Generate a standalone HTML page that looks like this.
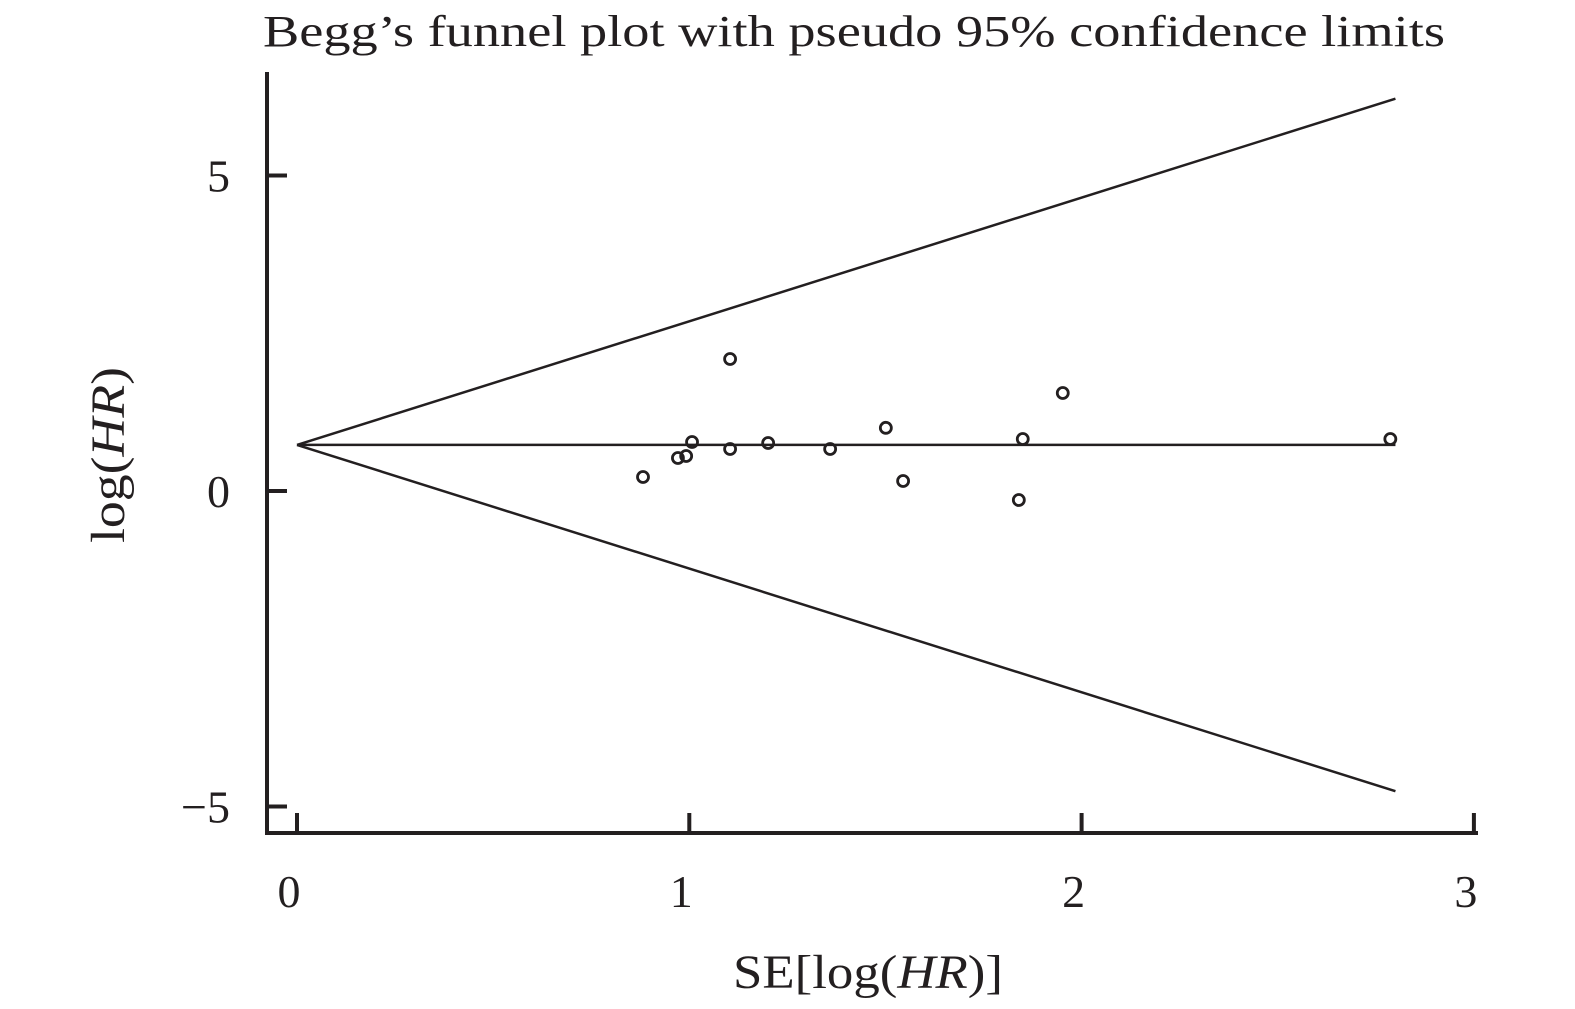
<!DOCTYPE html>
<html><head><meta charset="utf-8"><style>
html,body{margin:0;padding:0;background:#fff;}
svg{display:block;font-family:"Liberation Serif",serif;}
</style></head><body>
<svg id="chart" width="1575" height="1009" viewBox="0 0 1575 1009">
<text x="263" y="46" font-size="44" textLength="1182" lengthAdjust="spacingAndGlyphs" fill="#231f20">Begg’s funnel plot with pseudo 95% confidence limits</text>
<g id="axes"></g>
<g id="marks"></g>
<text transform="translate(124,455) rotate(-90)" text-anchor="middle" font-size="48" textLength="176" lengthAdjust="spacingAndGlyphs" fill="#231f20">log(<tspan font-style="italic">HR</tspan>)</text>
<text x="733" y="988" font-size="48" textLength="270" lengthAdjust="spacingAndGlyphs" fill="#231f20">SE[log(<tspan font-style="italic">HR</tspan>)]</text>
</svg>
<script>
const seValues=[0.882,0.971,0.992,1.007,1.104,1.104,1.201,1.359,1.501,1.545,1.840,1.850,1.952,2.787];
const logHR=[0.222,0.523,0.555,0.777,2.092,0.666,0.761,0.666,1.001,0.158,-0.143,0.824,1.553,0.824];
const pooled=0.73;
const maxSE=2.8;
const xTicks=[0,1,2,3];
const yTicks=[5,0,-5];
const yTickLabels=["5","0","\u22125"];
const NS="http://www.w3.org/2000/svg";
function sx(v){return 297+v*392.3;}
function sy(v){return 491-v*63.1;}
function mk(tag,attrs,parent){const e=document.createElementNS(NS,tag);for(const k in attrs)e.setAttribute(k,attrs[k]);parent.appendChild(e);return e;}
const axes=document.getElementById('axes'),marks=document.getElementById('marks');
let e=mk('line',{x1:267,y1:72,x2:267,y2:835,stroke:'#231f20','stroke-width':4},axes);


e=mk('line',{x1:265,y1:833,x2:1478,y2:833,stroke:'#231f20','stroke-width':4},axes);


xTicks.forEach(t=>{
 const l=mk('line',{x1:sx(t),y1:833,x2:sx(t),y2:813,stroke:'#231f20','stroke-width':4},axes);
 
 
 const tx=mk('text',{x:sx(t)-8,y:907,'text-anchor':'middle','font-size':46,fill:'#231f20'},axes);
 tx.textContent=t;
 
 
});
yTicks.forEach((t,i)=>{
 const l=mk('line',{x1:267,y1:sy(t),x2:287,y2:sy(t),stroke:'#231f20','stroke-width':4},axes);
 
 
 const tx=mk('text',{x:230,y:sy(t)+16,'text-anchor':'end','font-size':46,fill:'#231f20'},axes);
 tx.textContent=yTickLabels[i];
 
 
});
e=mk('line',{x1:sx(0),y1:sy(pooled),x2:sx(maxSE),y2:sy(pooled),stroke:'#231f20','stroke-width':2.5},marks);


e=mk('line',{x1:sx(0),y1:sy(pooled),x2:sx(maxSE),y2:sy(pooled+1.96*maxSE),stroke:'#231f20','stroke-width':2.5},marks);


e=mk('line',{x1:sx(0),y1:sy(pooled),x2:sx(maxSE),y2:sy(pooled-1.96*maxSE),stroke:'#231f20','stroke-width':2.5},marks);


seValues.forEach((s,i)=>{
 const c=mk('circle',{cx:sx(s),cy:sy(logHR[i]),r:5.5,fill:'none',stroke:'#231f20','stroke-width':2.8},marks);
 
 
});
</script>
</body></html>
